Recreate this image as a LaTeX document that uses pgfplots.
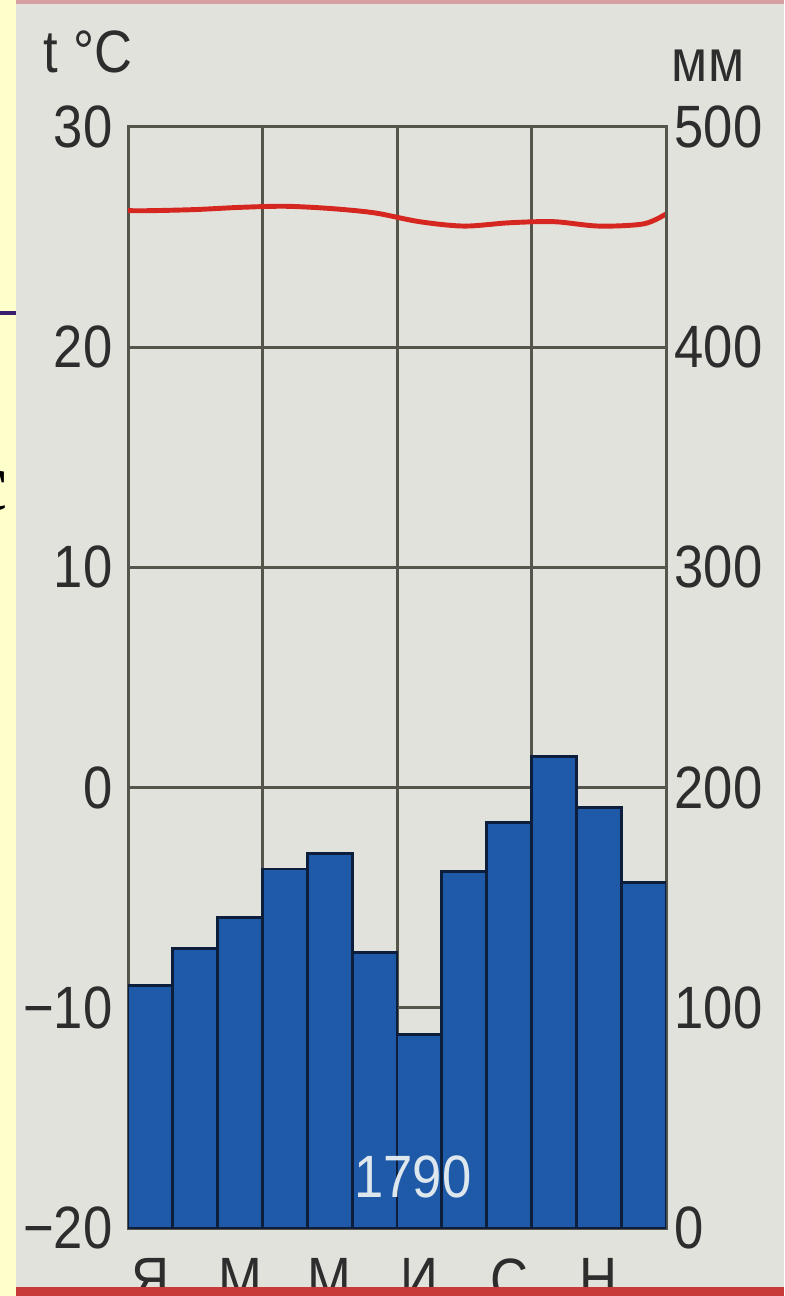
\documentclass[border=0pt]{standalone}
\usepackage{pgfplots}
\pgfplotsset{compat=1.18}
\usepackage{fontspec}
\setmainfont{Liberation Sans}[FakeStretch=0.88]
\newfontfamily\serifc{Liberation Serif}

\definecolor{paper}{RGB}{226,226,220}
\definecolor{gridc}{RGB}{85,85,75}
\definecolor{textc}{RGB}{45,45,45}
\definecolor{barblue}{RGB}{30,90,168}
\definecolor{bardark}{RGB}{12,30,60}
\definecolor{tred}{RGB}{214,38,32}
\definecolor{slideyellow}{RGB}{255,255,204}
\definecolor{slidepurple}{RGB}{60,30,110}
\definecolor{stripred}{RGB}{200,58,58}
\definecolor{strippink}{RGB}{215,160,160}

\newcommand{\lab}{\fontsize{17}{20}\selectfont}

\begin{document}
\begin{tikzpicture}[x=0.1mm,y=0.1mm]
  % photo background
  \fill[paper] (0,0) rectangle (784,1296);

  % temperature axis (left) with grid and the red line
  \begin{axis}[
    at={(12.8mm,6.8mm)}, anchor=south west,
    scale only axis, width=53.8mm, height=110.1mm,
    xmin=0.5, xmax=12.5, ymin=-20, ymax=30,
    axis line style={gridc, line width=0.3mm},
    major tick length=0pt,
    xtick={1,3,5,7,9,11},
    xticklabels={Я,М,М,И,С,Н},
    extra x ticks={3.5,6.5,9.5},
    extra x tick labels={},
    extra x tick style={grid=major},
    ytick={-20,-10,0,10,20,30},
    yticklabels={−20,−10,0,10,20,30},
    yticklabel pos=left,
    ymajorgrids,
    grid style={gridc, line width=0.3mm},
    tick label style={font=\lab, text=textc, inner sep=1.5mm},
    xticklabel style={yshift=-1.5mm},
  ]
    \addplot[smooth, tred, line width=1.4pt] coordinates {
      (0.5,26.2)(1,26.2)(2,26.25)(3,26.35)(4,26.4)(5,26.3)(6,26.1)
      (7,25.7)(8,25.5)(9,25.65)(10,25.7)(11,25.5)(12,25.6)(12.5,26.05)
    };
  \end{axis}

  % precipitation axis (right) with the bars
  \begin{axis}[
    at={(12.8mm,6.8mm)}, anchor=south west,
    scale only axis, width=53.8mm, height=110.1mm,
    xmin=0.5, xmax=12.5, ymin=0, ymax=500,
    axis x line=none,
    axis y line*=right,
    axis line style={gridc, line width=0.3mm},
    major tick length=0pt,
    ytick={0,100,200,300,400,500},
    yticklabels={0,100,200,300,400,500},
    tick label style={font=\lab, text=textc, inner sep=1.5mm},
    yticklabel style={xshift=-0.7mm},
    ybar, bar width=1,
  ]
    \addplot[fill=barblue, draw=bardark, line width=0.28mm] coordinates {
      (1,110)(2,127)(3,141)(4,163)(5,170)(6,125)
      (7,88)(8,162)(9,184)(10,214)(11,191)(12,157)
    };
  \end{axis}

  % axis titles and yearly total
  \node[font=\lab, text=textc] at (88,1244) {t °C};
  \node[font=\lab, text=textc] at (708,1230) {мм};
  \node[font=\lab, text={rgb,255:red,222;green,230;blue,238}] at (413,119) {1790};

  % slide edges
  \fill[slideyellow] (0,0) rectangle (16,1296);
  \draw[slidepurple, line width=0.4mm] (0,983) -- (16,983);
  \begin{scope}
    \clip (0,700) rectangle (16,900);
    \node[anchor=east, font=\serifc\fontsize{24}{26}\selectfont, inner sep=0pt] at (9,805) {с};
  \end{scope}
  \fill[stripred] (16,0) rectangle (784,9);
  \fill[strippink] (16,1292) rectangle (784,1296);

  \pgfresetboundingbox
  \path[use as bounding box] (0,0) rectangle (784,1296);
\end{tikzpicture}
\end{document}
